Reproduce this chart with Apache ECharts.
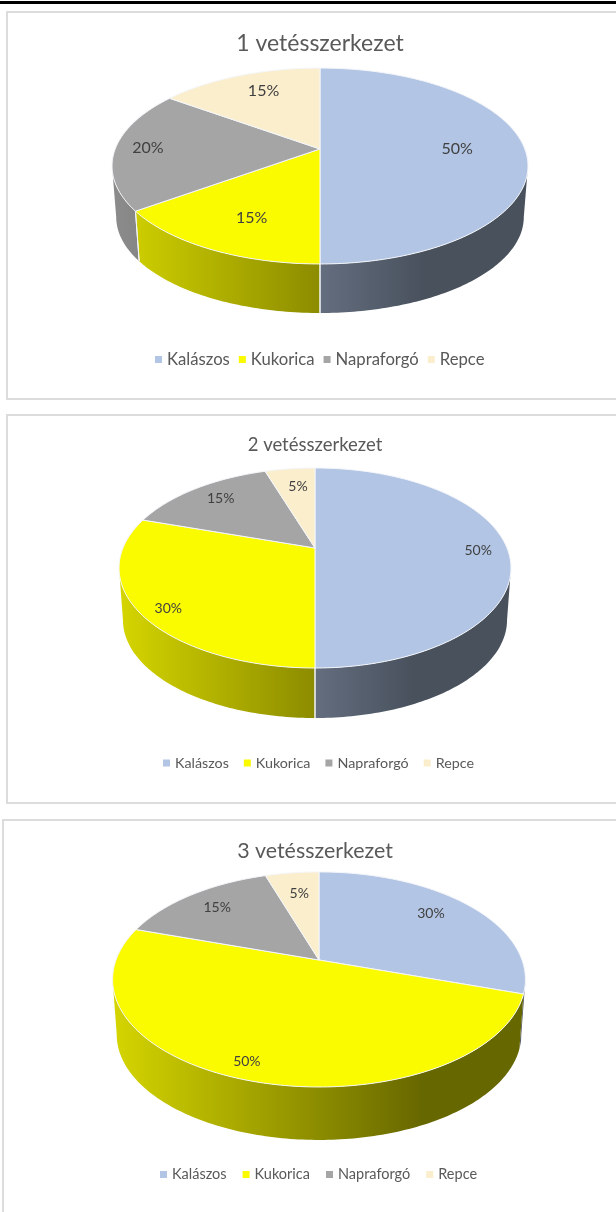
<!DOCTYPE html>
<html>
<head>
<meta charset="utf-8">
<style>
html,body{margin:0;padding:0;background:#fff;}
#main{width:616px;height:1212px;}
</style>
<script src="https://cdn.jsdelivr.net/npm/echarts@6/dist/echarts.min.js"></script>
</head>
<body>
<div id="main"></div>
<script>
var categories = ['Kalászos','Kukorica','Napraforgó','Repce'];
var colors = ['#B2C5E4','#FBFB00','#A5A5A5','#FBEECD'];

var titles = ['1 vetésszerkezet','2 vetésszerkezet','3 vetésszerkezet'];
var values1 = [50,15,20,15];
var values2 = [50,30,15,5];
var values3 = [30,50,15,5];

// pie geometry, perspective ellipse: p is the tilt, d the thickness
var charts = [
    {title:titles[0],values:values1,cx:320,cy:149,a:204.8,b:95,p:0.1737,d:51.3,
     labelR:[.67,.66,.84,.67],labelDy:[0,7,-1,-7],labelSize:16,
     titleX:320,titleTop:27,titleSize:23,legendLeft:150,legendTop:346,legendSize:16.7,legendGap:9,box:[7,12,640,387]},
    {title:titles[1],values:values2,cx:315,cy:548,a:192,b:96,p:0.2,d:52.4,
     labelR:[.85,.85,.77,.64],labelDy:[2,7,-2,-8],labelSize:14,
     titleX:315,titleTop:431,titleSize:18.5,legendLeft:158,legendTop:751,legendSize:14.3,legendGap:15,box:[7,415,640,388]},
    {title:titles[2],values:values3,cx:319,cy:960,a:203,b:104,p:0.181,d:55.5,
     labelR:[.735,.96,.78,.7],labelDy:[-5,-12,0,-3],labelSize:14,
     titleX:315,titleTop:836,titleSize:21.4,legendLeft:155,legendTop:1162,legendSize:14.5,legendGap:16,box:[3,820,640,420]}
];

var myChart = echarts.init(document.getElementById('main'));

function shade(hex,k){
    var n = parseInt(hex.slice(1),16);
    return 'rgb('+Math.round((n>>16)*k)+','+Math.round(((n>>8)&255)*k)+','+Math.round((n&255)*k)+')';
}

// t is share of the pie in percent, clockwise from 12 o'clock
function project(c,t,r,s,dy){
    var ang = t/100*Math.PI*2;
    var u = Math.sin(ang)*r, v = Math.cos(ang)*r;
    var w = 1+c.p*v;
    return [c.cx+s*c.a*u/w, c.cy+dy-s*c.b*v/w];
}

function arc(c,from,to,s,dy){
    var pts = [];
    var n = Math.max(2,Math.ceil((to-from)*3.6));
    for(var i=0;i<=n;i++){
        pts.push(project(c,from+(to-from)*i/n,1,s,dy));
    }
    return pts;
}

function edgeLine(c,t){
    var a = project(c,t,1,1,0), b = project(c,t,1,.98,c.d);
    return {type:'line',z2:2,shape:{x1:a[0],y1:a[1],x2:b[0],y2:b[1]},
        style:{stroke:'#f4f6fa',lineWidth:1}};
}

function sliceItem(c,idx,from,to){
    var children = [];
    // the wall only shows between the two silhouette points of the ellipse
    var tR = Math.acos(-c.p)/(Math.PI*2)*100, tL = 100-tR;
    var f = Math.max(from,tR), e = Math.min(to,tL);
    if(e>f){
        // lighting runs left to right over the whole pie
        var x0 = c.cx-c.a*1.015, x1 = c.cx+c.a*1.015;
        var fill = {type:'linear',x:x0,y:0,x2:x1,y2:0,global:true,colorStops:[
            {offset:0,color:shade(colors[idx],.85)},
            {offset:.75,color:shade(colors[idx],.41)},
            {offset:1,color:shade(colors[idx],.41)}
        ]};
        var wall = arc(c,f,e,1,0).concat(arc(c,f,e,.98,c.d).reverse());
        children.push({type:'polygon',z2:1,shape:{points:wall},style:{fill:fill}});
        // near the silhouette the divider is too short to be seen
        if(from>tR && from<tL && Math.abs(Math.sin(from/50*Math.PI))<.9){ children.push(edgeLine(c,from)); }
        if(to>tR && to<tL && Math.abs(Math.sin(to/50*Math.PI))<.9){ children.push(edgeLine(c,to)); }
    }
    // top face
    children.push({type:'polygon',z2:10,shape:{points:[[c.cx,c.cy]].concat(arc(c,from,to,1,0))},
        style:{fill:colors[idx],stroke:'#f4f6fa',lineWidth:1}});
    var lab = project(c,(from+to)/2,c.labelR[idx],1,c.labelDy[idx]);
    children.push({type:'text',z2:20,x:lab[0],y:lab[1],style:{
        text:c.values[idx]+'%',align:'center',verticalAlign:'middle',
        fill:'#404040',font:c.labelSize+'px Lato'}});
    return {type:'group',children:children};
}

var series = [], titleOpt = [], legendOpt = [], boxes = [];

charts.forEach(function(c){
    var acc = 0;
    c.values.forEach(function(val,idx){
        var from = acc, to = acc+val;
        acc = to;
        series.push({
            type:'custom',
            name:categories[idx],
            coordinateSystem:'none',
            color:colors[idx],
            itemStyle:{color:colors[idx]},
            animation:false,
            silent:true,
            data:[[val]],
            renderItem:function(){ return sliceItem(c,idx,from,to); }
        });
    });
    titleOpt.push({
        text:c.title,
        left:c.titleX-5,
        top:c.titleTop,
        textAlign:'center',
        textStyle:{fontFamily:'Lato',fontWeight:'normal',fontSize:c.titleSize,color:'#595959'}
    });
    legendOpt.push({
        data:categories,
        left:c.legendLeft,
        top:c.legendTop,
        icon:'rect',
        itemWidth:7,
        itemHeight:7,
        itemGap:c.legendGap,
        selectedMode:false,
        textStyle:{fontFamily:'Lato',fontSize:c.legendSize,color:'#595959'}
    });
    boxes.push({
        type:'rect',
        shape:{x:c.box[0],y:c.box[1],width:c.box[2],height:c.box[3]},
        style:{fill:'#fff',stroke:'#dcdcdc',lineWidth:2},
        z:-10
    });
});

boxes.push({type:'rect',shape:{x:0,y:1,width:616,height:3},style:{fill:'#000'},z:-10});

var option = {
    backgroundColor:'#fff',
    animation:false,
    title:titleOpt,
    legend:legendOpt,
    graphic:boxes,
    series:series
};
myChart.setOption(option);
</script>
</body>
</html>
